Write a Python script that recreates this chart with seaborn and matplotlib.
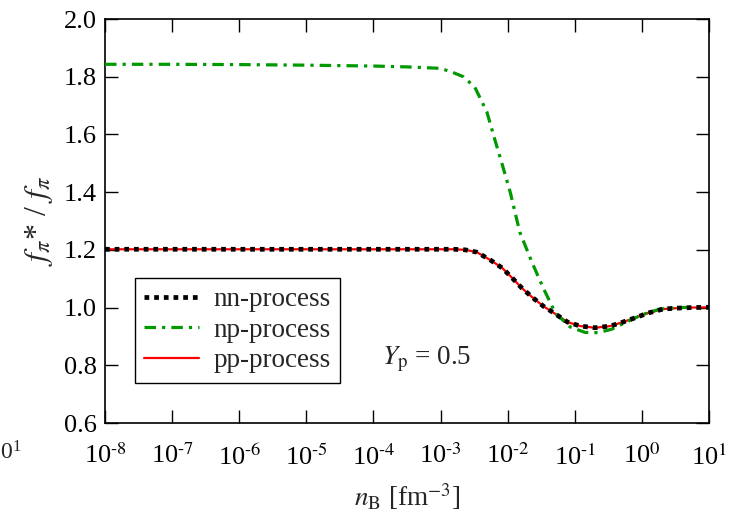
import numpy as np
import pandas as pd
import matplotlib
matplotlib.use("Agg")
import matplotlib.pyplot as plt
import seaborn as sns
from matplotlib.ticker import FixedLocator, NullLocator

# ---- data ----
log_nb_nn = [-8.0, -7.0, -6.0, -5.0, -4.0, -3.5, -3.0, -2.8, -2.63, -2.46, -2.26, -2.08,
             -1.93, -1.79, -1.64, -1.47, -1.29, -1.11, -0.92, -0.70, -0.47, -0.28,
             -0.07, 0.09, 0.32, 0.52, 0.75, 1.0]
nn_vals = [1.202, 1.202, 1.202, 1.202, 1.202, 1.202, 1.202, 1.202, 1.200, 1.192, 1.165, 1.137,
           1.102, 1.068, 1.037, 1.005, 0.978, 0.950, 0.936, 0.930, 0.936, 0.950,
           0.967, 0.981, 0.995, 0.998, 1.000, 1.001]
pp_vals = [1.202, 1.202, 1.202, 1.202, 1.202, 1.202, 1.202, 1.202, 1.200, 1.192, 1.165, 1.137,
           1.102, 1.068, 1.037, 1.005, 0.978, 0.950, 0.936, 0.930, 0.936, 0.950,
           0.967, 0.981, 0.995, 0.998, 1.000, 1.001]
log_nb_np = [-8.0, -7.0, -6.0, -5.0, -4.0, -3.5, -3.0, -2.83, -2.66, -2.49, -2.31, -2.19,
             -2.07, -1.96, -1.82, -1.64, -1.47, -1.29, -1.07, -0.85, -0.65, -0.45,
             -0.25, 0.0, 0.27, 0.55, 0.8, 1.0]
np_vals = [1.843, 1.843, 1.842, 1.840, 1.837, 1.834, 1.829, 1.816, 1.800, 1.764, 1.678, 1.581,
           1.487, 1.398, 1.262, 1.158, 1.068, 0.981, 0.933, 0.914, 0.913, 0.925,
           0.948, 0.975, 0.995, 1.000, 1.001, 1.001]
xtick_exps = [-8, -7, -6, -5, -4, -3, -2, -1, 0, 1]
ytick_vals = [0.6, 0.8, 1.0, 1.2, 1.4, 1.6, 1.8, 2.0]

df = pd.concat([
    pd.DataFrame({"nB": 10.0 ** np.array(log_nb_nn), "ratio": pp_vals, "proc": "pp-process"}),
    pd.DataFrame({"nB": 10.0 ** np.array(log_nb_np), "ratio": np_vals, "proc": "np-process"}),
    pd.DataFrame({"nB": 10.0 ** np.array(log_nb_nn), "ratio": nn_vals, "proc": "nn-process"}),
])

sns.set_style("ticks")
plt.rcParams["font.family"] = ["Liberation Serif", "DejaVu Serif"]
plt.rcParams["mathtext.fontset"] = "stix"

fig = plt.figure(figsize=(7.4, 5.26), dpi=100)
ax = fig.add_axes([105 / 740, 1 - 423 / 526, (709 - 105) / 740, (423 - 19) / 526])

styles = {
    "pp-process": dict(color="#ff0000", lw=1.6, ls="-", zorder=2),
    "np-process": dict(color="#009900", lw=2.3, ls=(0, (3.6, 1.9, 1.0, 1.9)), zorder=3),
    "nn-process": dict(color="black", lw=3.4, ls=(0, (1.0, 1.05)), zorder=4),
}
handles = {}
for proc in ["pp-process", "np-process", "nn-process"]:
    sub = df[df["proc"] == proc]
    st = styles[proc]
    sns.lineplot(data=sub, x="nB", y="ratio", ax=ax, color=st["color"], lw=st["lw"],
                 zorder=st["zorder"], estimator=None, sort=False, legend=False)
    line = ax.get_lines()[-1]
    line.set_linestyle(st["ls"])
    handles[proc] = line

ax.set_xscale("log")
ax.set_xlim(1e-8, 1e1)
ax.set_ylim(0.6, 2.0)
ax.xaxis.set_major_locator(FixedLocator([10.0 ** e for e in xtick_exps]))
ax.xaxis.set_minor_locator(NullLocator())
ax.set_xticklabels([r"$\mathregular{10^{\text{%d}}}$" % e for e in xtick_exps])
ax.set_yticks(ytick_vals)
ax.set_yticklabels(["%.1f" % v for v in ytick_vals])
ax.tick_params(which="major", direction="in", length=9.5, width=1.0, top=True, right=True,
               labelsize=19, color="black", labelcolor="black")
ax.tick_params(axis="y", pad=6)
ax.tick_params(axis="x", pad=15)
for sp in ax.spines.values():
    sp.set_linewidth(1.2)
    sp.set_color("black")

ax.set_xlabel(r"$n_\mathrm{B}$ [fm$^{-3}$]", fontsize=19.5, labelpad=9)
ax.set_ylabel(r"$f_\pi$* / $f_\pi$", fontsize=23, labelpad=6)

leg = ax.legend([handles["nn-process"], handles["np-process"], handles["pp-process"]],
                ["nn-process", "np-process", "pp-process"],
                loc="upper left", bbox_to_anchor=((135 - 105) / 604, (423 - 278) / 404),
                fontsize=19.5, frameon=True, fancybox=False, borderpad=0.35,
                handlelength=2.0, handletextpad=0.55, labelspacing=0.2, borderaxespad=0)
leg.get_frame().set_edgecolor("black")
leg.get_frame().set_linewidth(1.0)
leg.get_frame().set_alpha(1)

ax.text(0.458, 0.158, r"$Y_\mathrm{p}$ = 0.5", transform=ax.transAxes, fontsize=19.5,
        ha="left", va="center")

# remnant of the neighbouring panel's tick label at the left edge
fig.text(0.0, 1 - 453 / 526, r"$\mathregular{0^{1}}$", fontsize=17, ha="left", va="center")

fig.savefig("out.png", dpi=100)
